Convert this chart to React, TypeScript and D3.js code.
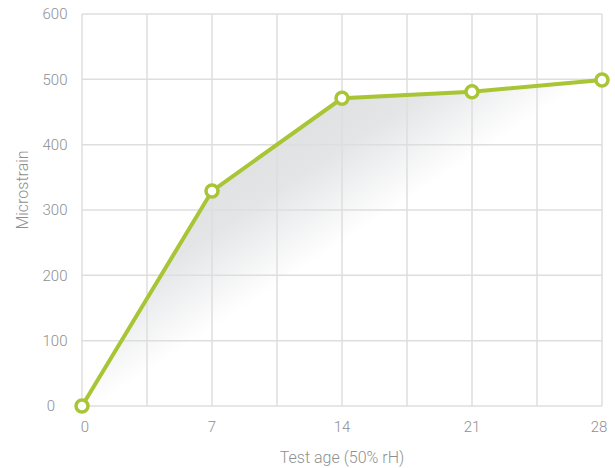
import React from "react";
import * as d3 from "d3";

const days = [0, 7, 14, 21, 28];
const microstrain = [0, 329, 471, 481, 499];
const xTicks = [0, 7, 14, 21, 28];
const yTicks = [0, 100, 200, 300, 400, 500, 600];
const xGrid = d3.range(0, 28.01, 3.5);

const W = 615;
const H = 468;
const left = 82;
const right = 602;
const top = 14;
const bottom = 406;

export default function App() {
  const x = d3.scaleLinear().domain([0, 28]).range([left, right]);
  const y = d3.scaleLinear().domain([0, 600]).range([bottom, top]);
  const pts = days.map((d, i) => [d, microstrain[i]] as [number, number]);
  const line = d3.line<[number, number]>().x((d) => x(d[0])).y((d) => y(d[1]));
  const area = d3
    .area<[number, number]>()
    .x((d) => x(d[0]))
    .y0(y(0))
    .y1((d) => y(d[1]));
  const green = "#a8c536";
  const textColor = "#8f8f8f";
  const font = "Roboto, 'Liberation Sans', sans-serif";

  return (
    <svg
      width={W}
      height={H}
      style={{ position: "absolute", left: 0, top: 0, background: "#fff" }}
    >
      <defs>
        {/* diagonal fade: grey along the upper-left of the area, white toward lower-right */}
        <linearGradient
          id="fillGrad"
          gradientUnits="userSpaceOnUse"
          x1={154}
          y1={232}
          x2={216}
          y2={326}
        >
          <stop offset="0" stopColor="#e1e2e4" />
          <stop offset="0.3" stopColor="#e4e5e7" />
          <stop offset="1" stopColor="#ffffff" />
        </linearGradient>
      </defs>
      <path d={area(pts) || ""} fill="url(#fillGrad)" />
      {xGrid.map((g) => (
        <line
          key={"vx" + g}
          x1={x(g)}
          x2={x(g)}
          y1={top}
          y2={bottom}
          stroke="#dedede"
          strokeWidth={1.5}
        />
      ))}
      {yTicks.map((t) => (
        <line
          key={"hy" + t}
          x1={left}
          x2={right}
          y1={y(t)}
          y2={y(t)}
          stroke="#dedede"
          strokeWidth={1.5}
        />
      ))}
      <path d={line(pts) || ""} fill="none" stroke={green} strokeWidth={4} />
      {pts.map((p, i) => (
        <circle
          key={"m" + i}
          cx={x(p[0])}
          cy={y(p[1])}
          r={6}
          fill="#fff"
          stroke={green}
          strokeWidth={3.5}
        />
      ))}
      {yTicks.map((t) => (
        <text
          key={"yl" + t}
          x={t === 0 ? 51 : 55}
          y={y(t)}
          dy="0.35em"
          textAnchor="middle"
          fontFamily={font}
          fontWeight={300}
          fontSize={15}
          fill={textColor}
        >
          {t}
        </text>
      ))}
      {xTicks.map((t) => (
        <text
          key={"xl" + t}
          x={x(t) + (t === 0 ? 3 : t === 28 ? -3 : 0)}
          y={427}
          dy="0.35em"
          textAnchor="middle"
          fontFamily={font}
          fontWeight={300}
          fontSize={15}
          fill={textColor}
        >
          {t}
        </text>
      ))}
      <text
        x={342}
        y={457}
        dy="0.35em"
        textAnchor="middle"
        fontFamily={font}
        fontWeight={300}
        fontSize={16}
        fill={textColor}
      >
        Test age (50% rH)
      </text>
      <text
        transform={`translate(22, 190) rotate(-90)`}
        dy="0.35em"
        textAnchor="middle"
        fontFamily={font}
        fontWeight={300}
        fontSize={16}
        fill={textColor}
      >
        Microstrain
      </text>
    </svg>
  );
}
